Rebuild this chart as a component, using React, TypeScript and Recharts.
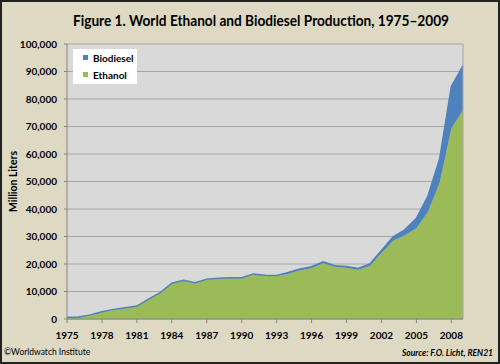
import { AreaChart, Area, XAxis, YAxis, CartesianGrid, Legend, ReferenceLine } from 'recharts'

const YEARS = [
  1975, 1976, 1977, 1978, 1979, 1980, 1981, 1982, 1983, 1984, 1985, 1986,
  1987, 1988, 1989, 1990, 1991, 1992, 1993, 1994, 1995, 1996, 1997, 1998,
  1999, 2000, 2001, 2002, 2003, 2004, 2005, 2006, 2007, 2008, 2009,
]

// million liters
const ETHANOL = [
  600, 700, 1500, 2600, 3500, 4100, 4700, 7200, 9600, 13000, 14100, 13200,
  14500, 14800, 15000, 15000, 16300, 15800, 15600, 16500, 17700, 18500, 20300, 19000,
  18600, 17900, 19300, 24000, 28500, 30500, 33000, 39000, 49600, 69300, 76000,
]

const BIODIESEL = [
  0, 0, 0, 0, 0, 0, 0, 0, 0, 0, 0, 0,
  0, 0, 0, 0, 100, 100, 200, 400, 500, 500, 500, 400,
  500, 500, 700, 900, 1400, 1900, 3600, 5800, 8800, 15200, 16100,
]

const X_TICKS = [1975, 1978, 1981, 1984, 1987, 1990, 1993, 1996, 1999, 2002, 2005, 2008]
const Y_TICKS = [0, 10000, 20000, 30000, 40000, 50000, 60000, 70000, 80000, 90000, 100000]

const SERIES = [
  { key: 'Biodiesel', color: '#4F81BD' },
  { key: 'Ethanol', color: '#9BBB59' },
]

const FONT = 'Lato, "Open Sans", sans-serif'

const data = YEARS.map((year, i) => ({ year, Ethanol: ETHANOL[i], Biodiesel: BIODIESEL[i] }))

const fmt = (v: number) => v.toLocaleString('en-US')

function LegendBox() {
  return (
    <div
      style={{
        background: '#fff',
        width: 64,
        height: 35,
        fontFamily: FONT,
        fontWeight: 700,
        fontSize: 10,
        color: '#000',
        boxSizing: 'border-box',
        paddingLeft: 10,
        paddingTop: 0,
      }}
    >
      {SERIES.map((s) => (
        <div key={s.key} style={{ display: 'flex', alignItems: 'center', height: 17 }}>
          <span style={{ width: 5, height: 5, background: s.color, marginRight: 5 }} />
          {s.key}
        </div>
      ))}
    </div>
  )
}

export default function App() {
  return (
    <div style={{ position: 'relative', width: 500, height: 364, background: '#DDD9C3', overflow: 'hidden' }}>
      <style>{'body{margin:0}'}</style>
      <AreaChart
        width={500}
        height={364}
        data={data}
        margin={{ top: 44, right: 37, left: 0, bottom: 15 }}
      >
        <CartesianGrid vertical={false} stroke="#A6A6A6" fill="#D9D9D9" />
        <XAxis
          dataKey="year"
          type="number"
          domain={[1975, 2009]}
          ticks={X_TICKS}
          height={30}
          stroke="#868686"
          tickSize={4}
          tickMargin={9}
          tick={{ fill: '#000', fontSize: 10, fontWeight: 700, fontFamily: FONT }}
        />
        <YAxis
          width={67}
          domain={[0, 100000]}
          ticks={Y_TICKS}
          tickFormatter={fmt}
          stroke="#868686"
          tickSize={3}
          tickMargin={7}
          tick={{ fill: '#000', fontSize: 10, fontWeight: 700, fontFamily: FONT }}
          label={{
            value: 'Million Liters',
            angle: -90,
            position: 'insideLeft',
            offset: 13,
            style: { fill: '#000', fontSize: 10.5, fontWeight: 700, fontFamily: FONT, textAnchor: 'middle' },
          }}
        />
        <ReferenceLine x={2009} stroke="#A6A6A6" />
        <Legend
          layout="vertical"
          align="center"
          verticalAlign="middle"
          content={<LegendBox />}
          wrapperStyle={{ position: 'absolute', left: 73, top: 49, width: 64, height: 35 }}
        />
        <Area
          type="linear"
          dataKey="Ethanol"
          stackId="a"
          stroke="#9BBB59"
          strokeWidth={0}
          fill="#9BBB59"
          fillOpacity={1}
          isAnimationActive={false}
        />
        <Area
          type="linear"
          dataKey="Biodiesel"
          stackId="a"
          stroke="#4F81BD"
          strokeWidth={1.5}
          fill="#4F81BD"
          fillOpacity={1}
          isAnimationActive={false}
        />
      </AreaChart>
      <svg
        width={500}
        height={364}
        style={{ position: 'absolute', left: 0, top: 0, pointerEvents: 'none' }}
      >
        <text
          x={261}
          y={26}
          textAnchor="middle"
          textLength={376}
          lengthAdjust="spacingAndGlyphs"
          style={{ fontFamily: FONT, fontWeight: 700, fontSize: 15, fill: '#000' }}
        >
          Figure 1. World Ethanol and Biodiesel Production, 1975–2009
        </text>
        <text x={4} y={355} style={{ fontFamily: FONT, fontSize: 8.5, fill: '#000' }}>
          ©Worldwatch Institute
        </text>
        <text
          x={493}
          y={356}
          textAnchor="end"
          style={{ fontFamily: FONT, fontSize: 8.5, fontWeight: 700, fontStyle: 'italic', fill: '#000' }}
        >
          Source: F.O. Licht, REN21
        </text>
      </svg>
      <div
        style={{
          position: 'absolute',
          left: 0,
          top: 0,
          width: 500,
          height: 364,
          boxSizing: 'border-box',
          border: '2px solid #222',
          pointerEvents: 'none',
        }}
      />
    </div>
  )
}
